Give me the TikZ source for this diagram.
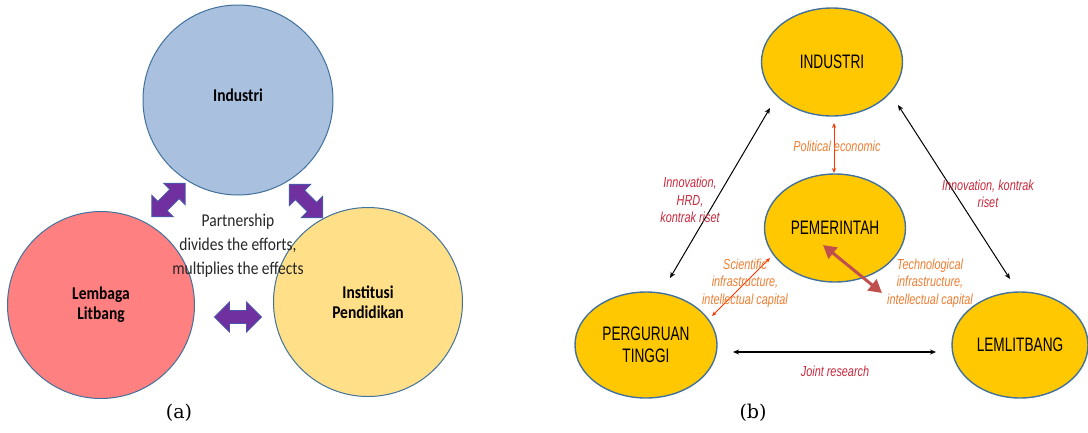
\documentclass[tikz,border=0pt]{standalone}
\usepackage{fontspec}
\setmainfont{Liberation Sans}
\newfontfamily\afont[FakeStretch=0.86]{Carlito}
\newfontfamily\bfont[FakeStretch=0.70]{Liberation Sans}
\newfontfamily\nfont[FakeStretch=0.75]{Liberation Sans}
\newfontfamily\capfont{DejaVu Serif}
\usetikzlibrary{arrows.meta,calc,shapes.geometric}

\definecolor{indblue}{HTML}{A9C0DE}
\definecolor{litred}{HTML}{FF8080}
\definecolor{pendyellow}{HTML}{FFDF88}
\definecolor{edgeblue}{HTML}{41719C}
\definecolor{purp}{HTML}{7030A0}
\definecolor{purpedge}{HTML}{4B56A8}
\definecolor{gold}{HTML}{FFC800}
\definecolor{crimson}{HTML}{C8283C}
\definecolor{orangelab}{HTML}{ED7D31}
\definecolor{redline}{HTML}{FF3300}
\definecolor{brick}{HTML}{C0504D}
\definecolor{textgray}{HTML}{262626}

\begin{document}
\begin{tikzpicture}[x=1pt,y=-1pt,
  bigcirc/.style={circle,draw=edgeblue,line width=1,inner sep=0,align=center,
    font=\afont\bfseries\fontsize{18}{20}\selectfont},
  oval/.style={ellipse,draw=edgeblue,line width=1.4,fill=gold,inner sep=0,
    minimum width=141,minimum height=108,align=center,
    font=\bfont\fontsize{19.5}{22}\selectfont},
  note/.style={align=center,font=\nfont\itshape\fontsize{14.5}{17.5}\selectfont},
  linkarr/.style={draw=black,line width=1,{Stealth[length=6,width=5]}-{Stealth[length=6,width=5]}},
  redarr/.style={draw=redline,line width=1,{Stealth[length=5,width=4]}-{Stealth[length=5,width=4]}},
  thickarr/.style={draw=brick,line width=3,{Triangle[length=13,width=14]}-{Triangle[length=13,width=14]}},
  caption/.style={font=\capfont\fontsize{19}{22}\selectfont},
  blockarrow/.pic={
    \path[fill=purp,draw=purpedge,line width=0.8]
      (-23.5,0) -- (-8.5,15) -- (-8.5,6.5) -- (8.5,6.5) -- (8.5,15) -- (23.5,0)
      -- (8.5,-15) -- (8.5,-6.5) -- (-8.5,-6.5) -- (-8.5,-15) -- cycle;
  }]
\useasboundingbox (0,0) rectangle (1088,432);

% ---------- (a) partnership circles ----------
\node[bigcirc,fill=indblue,minimum size=190,
  label={[font=\afont\bfseries\fontsize{18}{20}\selectfont,yshift=5pt]center:Industri}]
  (aind) at (238,100) {};
\node[bigcirc,fill=litred,minimum size=187] (alit) at (101,305) {Lembaga\\Litbang};
\node[bigcirc,fill=pendyellow,minimum size=189] (apend) at (368,302) {Institusi\\Pendidikan};

\pic[rotate=45] at (168.5,200) {blockarrow};
\pic[rotate=-45] at (306,201) {blockarrow};
\pic at (238,317) {blockarrow};

\node[align=center,text=textgray,font=\afont\fontsize{18}{24}\selectfont] (partner) at (238,246)
  {Partnership\\divides the efforts,\\multiplies the effects};

\node[caption] (capa) at (179,413) {(a)};

% ---------- (b) triple helix ----------
\node[oval] (ind) at (832,62) {INDUSTRI};
\node[oval] (pem) at (835,228) {PEMERINTAH};
\node[oval,minimum width=142,minimum height=106] (pt) at (646,345) {PERGURUAN\\TINGGI};
\node[oval,minimum width=136,minimum height=106] (lem) at (1020,345) {LEMLITBANG};

\draw[linkarr] ($(ind)+(-62,46)$) -- ($(pt)+(24,-67)$);
\draw[linkarr] ($(ind)+(66,43)$) -- ($(lem)+(-10,-66)$);
\draw[linkarr,line width=1.8] ($(pt)+(87,7)$) -- ($(lem)+(-84,7)$);
\draw[redarr] ($(ind)+(2,61)$) -- ($(pem)+(-1,-55)$);
\draw[redarr] ($(pem)+(-65,30)$) -- ($(pt)+(66,-29)$);
\draw[thickarr] ($(pem)+(-12,17)$) -- ($(lem)+(-138,-52)$);

\node[note,text=orangelab] (polec) at (837,146) {Political economic};
\node[note,text=crimson] (innl) at (690,200) {Innovation,\\HRD,\\kontrak riset};
\node[note,text=crimson] (innr) at (988,194) {Innovation, kontrak\\riset};
\node[note,text=orangelab] (sci) at (745,283) {Scientific\\infrastructure,\\intellectual capital};
\node[note,text=orangelab] (tech) at (930,283) {Technological\\infrastructure,\\intellectual capital};
\node[note,text=crimson] (joint) at (835,371) {Joint research};

\node[caption] (capb) at (753,413) {(b)};
\end{tikzpicture}
\end{document}
